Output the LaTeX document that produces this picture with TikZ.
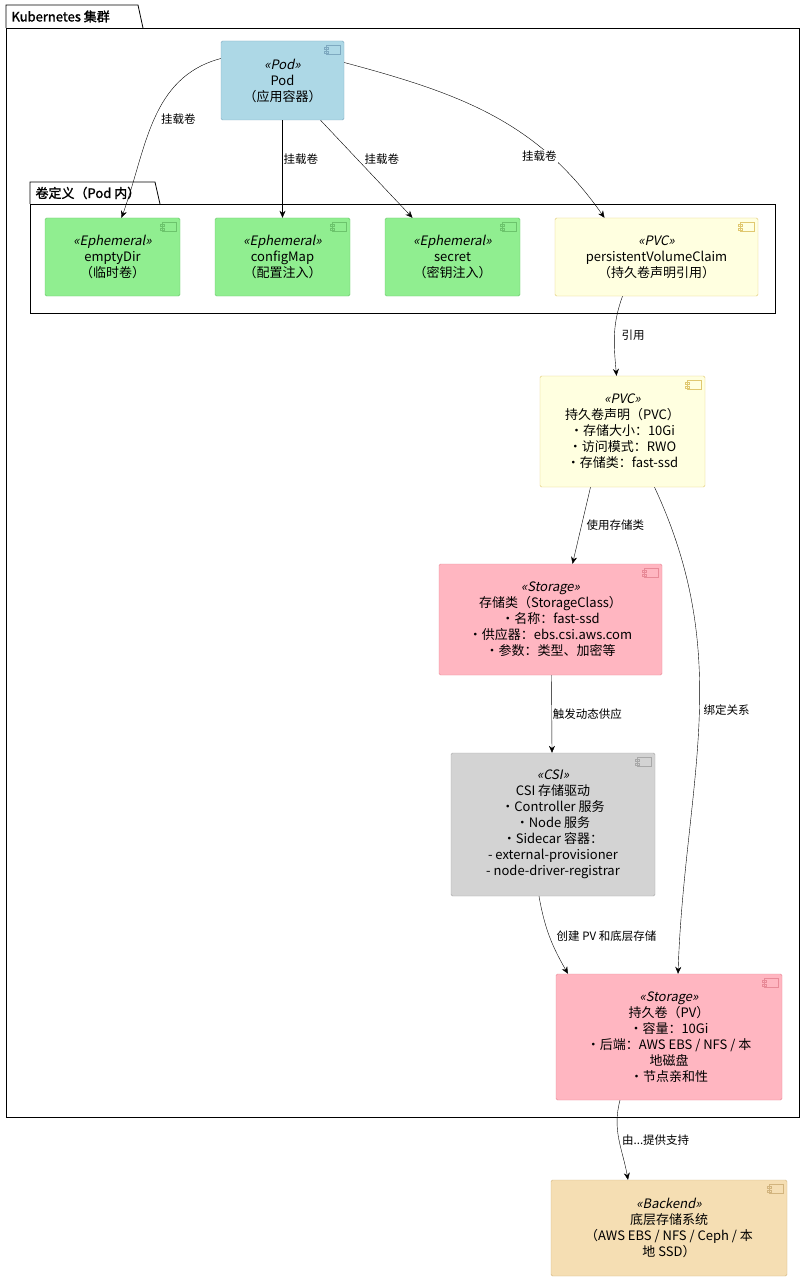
\documentclass[tikz,border=0pt]{standalone}
\usepackage{fontspec}
\setmainfont{Noto Sans CJK SC}[AutoFakeSlant=0.2,AutoFakeBold=1.5]
\usetikzlibrary{positioning,arrows.meta}
\definecolor{podblue}{HTML}{ADD8E6}
\definecolor{podline}{HTML}{7EA9C0}
\definecolor{ephgreen}{HTML}{90EE90}
\definecolor{ephline}{HTML}{6CC46C}
\definecolor{pvcyel}{HTML}{FFFFE0}
\definecolor{pvcline}{HTML}{E0C870}
\definecolor{stopink}{HTML}{FFB6C1}
\definecolor{stoline}{HTML}{E88A98}
\definecolor{csigray}{HTML}{D3D3D3}
\definecolor{csiline}{HTML}{A8A8A8}
\definecolor{bkwheat}{HTML}{F5DEB3}
\definecolor{bkline}{HTML}{D2B47E}
\tikzset{
  comp/.style={draw, rounded corners=1.5pt, align=center, inner sep=2pt,
    font=\fontsize{13}{16}\selectfont},
  pod/.style={comp, fill=podblue, draw=podline},
  eph/.style={comp, fill=ephgreen, draw=ephline},
  pvc/.style={comp, fill=pvcyel, draw=pvcline},
  sto/.style={comp, fill=stopink, draw=stoline},
  csi/.style={comp, fill=csigray, draw=csiline},
  bk/.style={comp, fill=bkwheat, draw=bkline},
  conn/.style={-{Stealth[length=7pt,width=6pt]}, thin},
  lbl/.style={font=\fontsize{11.5}{13}\selectfont, fill=white, inner sep=1pt},
  pkg/.style={font=\bfseries\fontsize{13}{14}\selectfont, anchor=west}
}
% small component icon in the upper right corner of a box
\newcommand{\compicon}[1]{%
  \draw[#1] ([xshift=-18pt,yshift=-4pt]\tmpn.north east) rectangle ++(14,9);
  \draw[#1] ([xshift=-20pt,yshift=-6pt]\tmpn.north east) rectangle ++(4,2);
  \draw[#1] ([xshift=-20pt,yshift=-10pt]\tmpn.north east) rectangle ++(4,2);}
\newcommand{\tmpn}{}

\begin{document}
\begin{tikzpicture}[x=1pt,y=-1pt]
  \useasboundingbox (0,0) rectangle (806,1281);

  %% outer package
  \draw[thick] (6,28) -- (6,5) -- (138,5) -- (143,28);
  \draw[thick] (6,28) rectangle (799,1117);
  \node[pkg] at (8,16.5) {Kubernetes 集群};

  %% inner package
  \draw[thick] (30,204) -- (30,182) -- (155,182) -- (160,204);
  \draw[thick] (30,204) rectangle (775,313);
  \node[pkg] at (32,193) {卷定义（Pod 内）};

  %% boxes
  \node[pod, minimum width=123pt, minimum height=79pt] (pod) at (282.5,80.5)
    {\textit{«Pod»}\\Pod\\（应用容器）};
  \node[eph, minimum width=135pt, minimum height=78pt] (empty) at (112.5,257)
    {\textit{«Ephemeral»}\\emptyDir\\（临时卷）};
  \node[eph, minimum width=135pt, minimum height=78pt] (cfg) at (282.5,257)
    {\textit{«Ephemeral»}\\configMap\\（配置注入）};
  \node[eph, minimum width=135pt, minimum height=78pt] (sec) at (452.5,257)
    {\textit{«Ephemeral»}\\secret\\（密钥注入）};
  \node[pvc, minimum width=203pt, minimum height=78pt] (pvcref) at (656.5,257)
    {\textit{«PVC»}\\persistentVolumeClaim\\（持久卷声明引用）};
  \node[pvc, minimum width=165pt, minimum height=111pt] (pvc) at (622.5,431.5)
    {\textit{«PVC»}\\持久卷声明（PVC）\\・存储大小：10Gi\\・访问模式：RWO\\・存储类：fast-ssd};
  \node[sto, minimum width=223pt, minimum height=111pt] (sc) at (550.5,619.5)
    {\textit{«Storage»}\\存储类（StorageClass）\\・名称：fast-ssd\\・供应器：ebs.csi.aws.com\\・参数：类型、加密等};
  \node[csi, minimum width=204pt, minimum height=143pt] (csid) at (553,824.5)
    {\textit{«CSI»}\\CSI 存储驱动\\・Controller 服务\\・Node 服务\\・Sidecar 容器：\\- external-provisioner\\- node-driver-registrar};
  \node[sto, minimum width=226pt, minimum height=126pt] (pv) at (669,1037)
    {\textit{«Storage»}\\持久卷（PV）\\・容量：10Gi\\・后端：AWS EBS / NFS / 本\\地磁盘\\・节点亲和性};
  \node[bk, minimum width=236pt, minimum height=96pt] (back) at (669,1228)
    {\textit{«Backend»}\\底层存储系统\\（AWS EBS / NFS / Ceph / 本\\地 SSD）};

  \foreach \n/\c in {pod/podline,empty/ephline,cfg/ephline,sec/ephline,pvcref/pvcline,
      pvc/pvcline,sc/stoline,csid/csiline,pv/stoline,back/bkline}{
    \renewcommand{\tmpn}{\n}\compicon{\c}}

  %% connectors
  \draw[conn] ([yshift=22pt]pod.west) to[out=195,in=70]
    node[lbl, pos=0.5, right=6pt] {挂载卷} ([xshift=9pt]empty.north);
  \draw[conn] (pod.south) -- node[lbl, pos=0.4, right=0pt] {挂载卷} (cfg.north);
  \draw[conn] ([xshift=38pt]pod.south) -- node[lbl, pos=0.4, right=6pt] {挂载卷}
    ([xshift=-40pt]sec.north);
  \draw[conn] ([yshift=18pt]pod.east) to[out=-15,in=125]
    node[lbl, pos=0.78, above left=0pt and 0pt] {挂载卷} ([xshift=-52pt]pvcref.north);
  \draw[conn] ([xshift=-34pt]pvcref.south) to[out=-110,in=95]
    node[lbl, pos=0.5, right=6pt] {引用} ([xshift=-6pt]pvc.north);
  \draw[conn] ([xshift=-32pt]pvc.south) -- node[lbl, pos=0.5, right=4pt] {使用存储类}
    ([xshift=22pt]sc.north);
  \draw[conn] ([xshift=32pt]pvc.south) to[out=-65,in=88]
    node[lbl, pos=0.47, right=3pt] {绑定关系} ([xshift=9pt]pv.north);
  \draw[conn] ([xshift=1pt]sc.south) -- node[lbl, pos=0.5, right=0pt] {触发动态供应}
    ([xshift=-1pt]csid.north);
  \draw[conn] ([xshift=-14pt]csid.south) to[out=-80,in=120]
    node[lbl, pos=0.5, right=6pt] {创建 PV 和底层存储} ([xshift=-101pt]pv.north);
  \draw[conn] ([xshift=-49pt]pv.south) to[out=-105,in=100]
    node[lbl, pos=0.5, right=2pt] {由...提供支持} ([xshift=-41pt]back.north);
\end{tikzpicture}
\end{document}
